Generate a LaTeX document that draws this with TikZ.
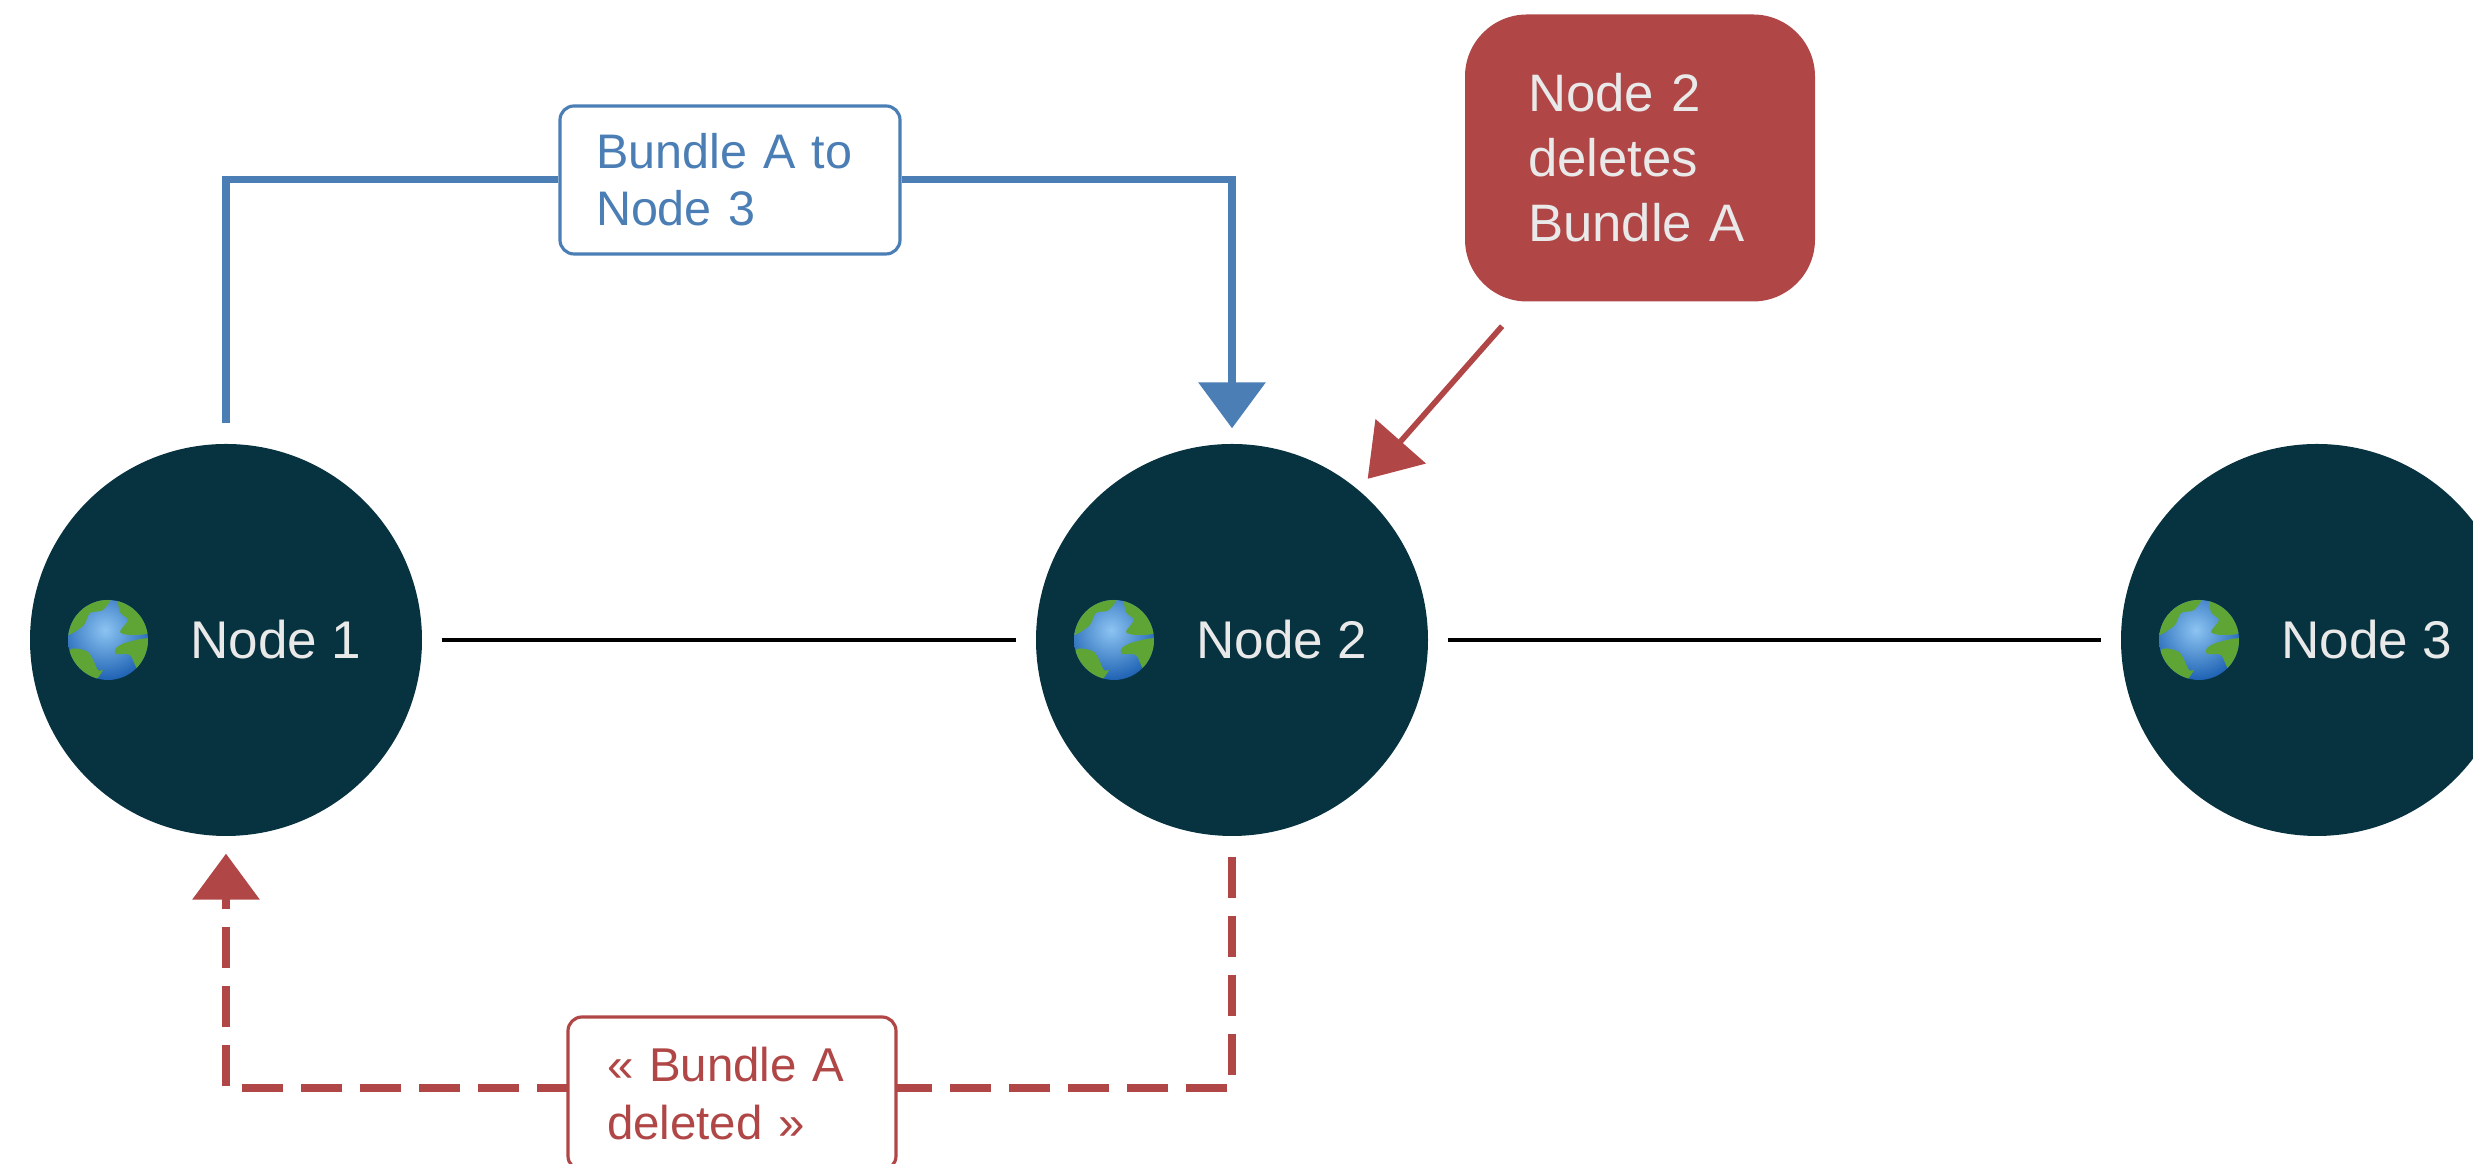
\documentclass[tikz,border=0pt]{standalone}
\usepackage{fontspec}
\setmainfont{Liberation Sans}
\usetikzlibrary{arrows.meta}

\definecolor{hostcolor}{HTML}{07323F}
\definecolor{bluecolor}{HTML}{4A7EB5}
\definecolor{redcolor}{HTML}{B04646}
\definecolor{paletext}{HTML}{E9E9E9}
\definecolor{landcolor}{HTML}{5FA535}
\definecolor{seacolor}{HTML}{1F6FD0}
\definecolor{seaglow}{HTML}{8CC4F2}

\tikzset{
    hostnode/.style={circle, fill=hostcolor, text=paletext, minimum size=3.92cm, inner sep=0pt,
        font=\fontsize{15.1}{18}\selectfont},
    wire/.style={black, line width=1.3pt, shorten >=0.19cm, shorten <=0.19cm},
    blueline/.style={bluecolor, line width=2pt},
    redline/.style={redcolor, line width=2pt},
    bigtip/.style={-{Triangle[width=0.66cm,length=0.46cm]}},
    bluelabel/.style={draw=bluecolor, text=bluecolor, fill=white, line width=0.9pt, rounded corners=0.14cm,
        align=left, inner xsep=0.36cm, inner ysep=0pt, text width=2.68cm, minimum height=1.48cm,
        font=\fontsize{13.8}{16.2}\selectfont},
    redlabel/.style={bluelabel, draw=redcolor, text=redcolor, inner xsep=0.39cm, text width=2.5cm, minimum height=1.53cm,
        font=\fontsize{13.5}{16.6}\selectfont},
    redbox/.style={fill=redcolor, text=paletext, rounded corners=0.62cm, align=left, inner xsep=0.63cm, inner ysep=0pt,
        text width=2.24cm, minimum height=2.87cm, font=\fontsize{15}{18.5}\selectfont},
    globe/.pic={
        \begin{scope}
            \clip (0, 0) circle (0.4);
            \shade[inner color=seaglow, outer color=seacolor!85!black] (-0.03, 0.1) circle (0.52);
            \fill[landcolor] plot[smooth cycle] coordinates {(-0.45, 0.05) (-0.25, 0.14) (-0.18, 0.27) (-0.05, 0.3) (0.02, 0.45) (-0.4, 0.45)};
            \fill[landcolor] plot[smooth cycle] coordinates {(0.12, 0.45) (0.12, 0.28) (0.2, 0.2) (0.12, 0.08) (0.25, 0.05) (0.45, 0.1) (0.45, 0.45)};
            \fill[landcolor] plot[smooth cycle] coordinates {(0.08, -0.08) (0.2, -0.02) (0.45, 0) (0.45, -0.35) (0.3, -0.3) (0.22, -0.15) (0.08, -0.14)};
            \fill[landcolor] plot[smooth cycle] coordinates {(-0.38, -0.1) (-0.2, -0.12) (-0.1, -0.3) (-0.05, -0.3) (-0.15, -0.42) (-0.3, -0.35)};
        \end{scope}
    },
}

\begin{document}
\begin{tikzpicture}

    \useasboundingbox (0, 0) rectangle (24.73, 11.64);

    % Make the hosts
    \foreach \i/\xpos in {1/2.26, 2/12.32, 3/23.17}{
        \node[hostnode] (node\i) at (\xpos, 5.24) {\hspace*{1cm}Node \i};
        \pic at ([xshift=-1.18cm]node\i.center) {globe};
    }

    % Links between the hosts
    \draw[wire] (node1) -- (node2);
    \draw[wire] (node2) -- (node3);

    % Bundle going to the second host
    \node[bluelabel] (bundlesent) at (7.30, 9.84) {Bundle A to\\Node 3};
    \draw[blueline, shorten <=0.2cm] (node1.north) |- (bundlesent.west);
    \draw[blueline, bigtip, shorten >=0.15cm] (bundlesent.east) -| (node2.north);

    % Note about the deletion
    \node[redbox] (deletenote) at (16.40, 10.06) {Node 2\\deletes\\Bundle A};
    \draw[redcolor, line width=1.6pt, -{Triangle[width=0.66cm,length=0.5cm]}, shorten <=0.32cm, shorten >=0.14cm]
        (deletenote.-129) -- (node2.50);

    % Deletion message going back
    \coordinate (deletebend) at (7.32, 0.76);
    \draw[redline, bigtip, dash pattern=on 0.41cm off 0.18cm, shorten <=0.2cm, shorten >=0.17cm]
        (node2.south) |- (deletebend) -| (node1.south);
    \node[redlabel] (deletemsg) at (7.32, 0.705) {« Bundle A\\deleted »};

\end{tikzpicture}
\end{document}
